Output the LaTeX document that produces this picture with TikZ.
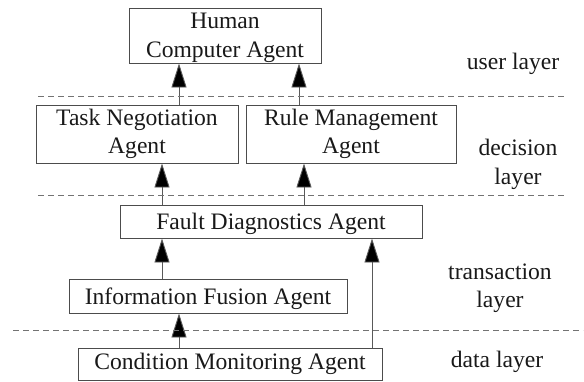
\documentclass[tikz,border=0pt]{standalone}
\usepackage{fontspec}
\setmainfont{Liberation Serif}
\usetikzlibrary{arrows.meta}
\begin{document}
\begin{tikzpicture}[x=1pt,y=-1pt,
  agentbox/.style={draw=black!70,line width=0.9pt,rectangle,inner sep=0pt,align=center,
    font=\fontsize{23.6}{28.5}\selectfont,text=black!90},
  lowtext/.style={text depth=0pt},
  layerlbl/.style={align=center,font=\fontsize{23.6}{28.5}\selectfont,text=black!90},
  up/.style={draw=black!65,line width=0.9pt,-{Triangle[width=15pt,length=24pt,fill=black]}},
  sep/.style={draw=black!55,line width=0.8pt,dash pattern=on 6pt off 4pt}]
\useasboundingbox (0,0) rectangle (584,381);
\fill[white] (0,0) rectangle (584,381);
% boxes
\node[agentbox,lowtext,minimum width=192pt,minimum height=55pt] (hca) at (225,35.5) {Human\\Computer Agent};
\node[agentbox,minimum width=202pt,minimum height=58pt] (tna) at (137,134) {Task Negotiation\\Agent};
\node[agentbox,minimum width=210pt,minimum height=58pt] (rma) at (351,134) {Rule Management\\Agent};
\node[agentbox,lowtext,minimum width=302pt,minimum height=33pt] (fda) at (271,221.5) {Fault Diagnostics Agent};
\node[agentbox,lowtext,minimum width=278pt,minimum height=34pt] (ifa) at (208,296) {Information Fusion Agent};
\node[agentbox,minimum width=304pt,minimum height=32pt] (cma) at (230,364) {Condition Monitoring Agent};
% arrow columns
\coordinate (c1) at (179,0);
\coordinate (c2) at (299,0);
\coordinate (c3) at (162,0);
\coordinate (c4) at (304,0);
\coordinate (c5) at (372,0);
\draw[up] (tna.north -| c1) -- (hca.south -| c1);
\draw[up] (rma.north -| c2) -- (hca.south -| c2);
\draw[up] (fda.north -| c3) -- (tna.south -| c3);
\draw[up] (fda.north -| c4) -- (rma.south -| c4);
\draw[up] (ifa.north -| c3) -- (fda.south -| c3);
\draw[up] (cma.north -| c5) -- (fda.south -| c5);
\draw[up] (cma.north -| c1) -- (ifa.south -| c1);
% layer separators
\draw[sep] (38,96) -- (565,96);
\draw[sep] (38,195.5) -- (565,195.5);
\draw[sep] (13,330) -- (583,330);
% layer labels
\node[layerlbl] (ul) at (513,64) {user layer};
\node[layerlbl] (dl) at (518,164.5) {decision\\layer};
\node[layerlbl] (tl) at (500,288) {transaction\\layer};
\node[layerlbl] (dal) at (497,362) {data layer};
\end{tikzpicture}
\end{document}
